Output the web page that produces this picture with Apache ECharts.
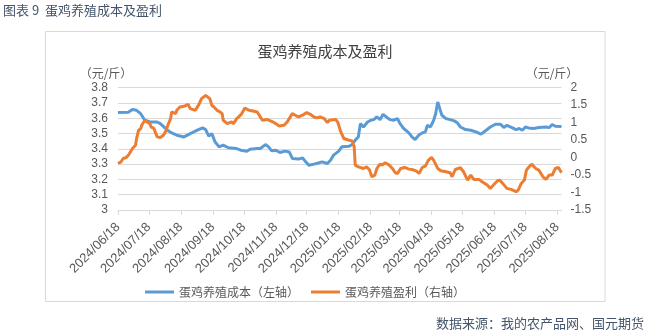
<!DOCTYPE html>
<html>
<head>
<meta charset="utf-8">
<script src="https://cdn.jsdelivr.net/npm/echarts@6/dist/echarts.min.js"></script>
<style>
  html, body { margin: 0; padding: 0; background: #ffffff; }
  #chart { width: 647px; height: 334px; }
</style>
</head>
<body>
<div id="chart"></div>
<script>
// Egg-laying hen farming: cost per jin (left axis) and profit per jin (right axis)

const startDate = '2024/06/18';
const endDate = '2025/08/22';

const costDates = [
  '2024/06/18','2024/06/28','2024/07/02','2024/07/06','2024/07/10','2024/07/14','2024/07/19','2024/07/26',
  '2024/07/29','2024/08/05','2024/08/09','2024/08/14','2024/08/21','2024/08/27','2024/09/03','2024/09/08',
  '2024/09/11','2024/09/14','2024/09/17','2024/09/20','2024/09/24','2024/09/28','2024/10/03','2024/10/11',
  '2024/10/15','2024/10/21','2024/10/24','2024/10/31','2024/11/03','2024/11/08','2024/11/11','2024/11/14',
  '2024/11/18','2024/11/22','2024/11/27','2024/12/01','2024/12/04','2024/12/10','2024/12/14','2024/12/17',
  '2024/12/20','2024/12/25','2024/12/30','2025/01/02','2025/01/07','2025/01/10','2025/01/13','2025/01/18',
  '2025/01/21','2025/01/28','2025/01/31','2025/02/03','2025/02/06','2025/02/08','2025/02/11','2025/02/15',
  '2025/02/18','2025/02/21','2025/02/24','2025/02/27','2025/03/02','2025/03/06','2025/03/09','2025/03/12',
  '2025/03/16','2025/03/18','2025/03/22','2025/03/27','2025/03/30','2025/04/02','2025/04/06','2025/04/09',
  '2025/04/12','2025/04/14','2025/04/17','2025/04/20','2025/04/22','2025/04/24','2025/04/26','2025/04/28',
  '2025/05/02','2025/05/06','2025/05/10','2025/05/13','2025/05/16','2025/05/21','2025/05/26','2025/05/31',
  '2025/06/05','2025/06/09','2025/06/14','2025/06/19','2025/06/24','2025/06/27','2025/06/30','2025/07/05',
  '2025/07/09','2025/07/12','2025/07/15','2025/07/18','2025/07/21','2025/07/26','2025/07/31','2025/08/07',
  '2025/08/10','2025/08/13','2025/08/16','2025/08/22'
];
const costValues = [
  3.637,3.639,3.657,3.652,3.630,3.587,3.576,3.576,
  3.565,3.522,3.504,3.489,3.478,3.500,3.522,3.537,
  3.526,3.483,3.500,3.446,3.413,3.424,3.407,3.402,
  3.391,3.385,3.398,3.402,3.402,3.428,3.413,3.387,
  3.391,3.376,3.385,3.380,3.337,3.333,3.341,3.315,
  3.293,3.300,3.309,3.315,3.304,3.326,3.359,3.385,
  3.413,3.417,3.428,3.457,3.478,3.565,3.543,3.576,
  3.587,3.591,3.609,3.591,3.626,3.604,3.591,3.587,
  3.598,3.570,3.533,3.505,3.478,3.461,3.492,3.504,
  3.511,3.554,3.543,3.587,3.630,3.707,3.663,3.620,
  3.598,3.591,3.583,3.570,3.543,3.526,3.522,3.511,
  3.496,3.517,3.543,3.561,3.561,3.539,3.554,3.539,
  3.526,3.533,3.522,3.543,3.537,3.533,3.539,3.543,
  3.539,3.559,3.548,3.546
];

const profitDates = [
  '2024/06/18','2024/06/21','2024/06/23','2024/06/26','2024/06/28','2024/07/02','2024/07/05','2024/07/06',
  '2024/07/08','2024/07/10','2024/07/11','2024/07/14','2024/07/16','2024/07/19','2024/07/20','2024/07/23',
  '2024/07/24','2024/07/26','2024/07/29','2024/08/01','2024/08/03','2024/08/06','2024/08/08','2024/08/09',
  '2024/08/13','2024/08/14','2024/08/17','2024/08/21','2024/08/25','2024/08/27','2024/09/01','2024/09/04',
  '2024/09/07','2024/09/11','2024/09/12','2024/09/15','2024/09/17','2024/09/19','2024/09/22','2024/09/24',
  '2024/09/27','2024/09/28','2024/10/02','2024/10/06','2024/10/08','2024/10/11','2024/10/13','2024/10/16',
  '2024/10/19','2024/10/23','2024/10/28','2024/10/31','2024/11/03','2024/11/05','2024/11/06','2024/11/10',
  '2024/11/14','2024/11/18','2024/11/21','2024/11/26','2024/11/29','2024/12/04','2024/12/05','2024/12/10',
  '2024/12/15','2024/12/18','2024/12/22','2024/12/25','2024/12/28','2024/12/31','2025/01/04','2025/01/07',
  '2025/01/09','2025/01/15','2025/01/17','2025/01/20','2025/01/23','2025/01/28','2025/01/31','2025/02/02',
  '2025/02/03','2025/02/06','2025/02/11','2025/02/14','2025/02/17','2025/02/19','2025/02/22','2025/02/24',
  '2025/02/27','2025/03/01','2025/03/04','2025/03/08','2025/03/11','2025/03/14','2025/03/16','2025/03/19',
  '2025/03/23','2025/03/27','2025/03/30','2025/04/03','2025/04/06','2025/04/09','2025/04/12','2025/04/15',
  '2025/04/18','2025/04/20','2025/04/24','2025/04/27','2025/05/02','2025/05/06','2025/05/08','2025/05/11',
  '2025/05/16','2025/05/19','2025/05/23','2025/05/26','2025/05/29','2025/06/03','2025/06/06','2025/06/11',
  '2025/06/14','2025/06/17','2025/06/21','2025/06/23','2025/06/26','2025/06/30','2025/07/04','2025/07/09',
  '2025/07/11','2025/07/14','2025/07/17','2025/07/19','2025/07/21','2025/07/24','2025/07/28','2025/07/31',
  '2025/08/04','2025/08/07','2025/08/10','2025/08/13','2025/08/16','2025/08/19','2025/08/22'
];
const profitValues = [
  -0.168,-0.121,-0.026,0.003,0.069,0.259,0.354,0.545,
  0.783,0.830,0.925,1.068,1.020,0.973,0.878,0.830,
  0.735,0.592,0.573,0.640,0.735,0.973,1.115,1.306,
  1.258,1.353,1.448,1.467,1.524,1.401,1.353,1.496,
  1.686,1.781,1.829,1.686,1.496,1.448,1.353,1.325,
  1.258,1.068,0.973,1.020,0.973,1.115,1.163,1.258,
  1.420,1.353,1.325,1.306,1.163,1.068,1.087,1.087,
  1.039,0.973,0.906,0.925,1.020,1.258,1.306,1.163,
  1.230,1.287,1.230,1.163,1.135,1.163,1.115,1.001,
  1.068,1.087,1.020,0.735,0.545,0.497,0.478,0.307,
  -0.216,-0.264,-0.311,-0.264,-0.359,-0.549,-0.501,-0.311,
  -0.188,-0.216,-0.149,-0.216,-0.311,-0.435,-0.454,-0.311,
  -0.283,-0.330,-0.340,-0.380,-0.450,-0.283,-0.245,-0.073,
  0.003,-0.073,-0.311,-0.378,-0.406,-0.435,-0.549,-0.340,
  -0.292,-0.406,-0.644,-0.501,-0.625,-0.625,-0.692,-0.787,
  -0.882,-0.787,-0.663,-0.644,-0.739,-0.882,-0.910,-0.977,
  -0.929,-0.739,-0.644,-0.359,-0.283,-0.188,-0.311,-0.359,
  -0.549,-0.625,-0.501,-0.501,-0.311,-0.283,-0.435
];

// Daily category list for the date axis
function buildDays(from, to) {
  const p = s => { const a = s.split('/').map(Number); return Date.UTC(a[0], a[1] - 1, a[2]); };
  const out = [];
  for (let t = p(from); t <= p(to); t += 86400000) {
    const d = new Date(t);
    const mm = String(d.getUTCMonth() + 1).padStart(2, '0');
    const dd = String(d.getUTCDate()).padStart(2, '0');
    out.push(d.getUTCFullYear() + '/' + mm + '/' + dd);
  }
  return out;
}
const days = buildDays(startDate, endDate);
const onTickDay = (idx, value) => value.slice(-3) === '/18';

const numFont = "'Liberation Sans', 'Noto Sans CJK SC', sans-serif";
const cjkFont = "'Noto Sans CJK SC', sans-serif";
const axisGrey = '#595959';
const lineGrey = '#d9d9d9';
const navy = '#44546A';

const chart = echarts.init(document.getElementById('chart'), null, { renderer: 'canvas' });

chart.setOption({
  animation: false,
  backgroundColor: '#ffffff',
  color: ['#5B9BD5', '#ED7D31'],
  graphic: [
    { type: 'rect', shape: { x: 45.5, y: 31.5, width: 559.5, height: 270 },
      style: { fill: 'none', stroke: lineGrey, lineWidth: 1 }, silent: true },
    { type: 'text', left: 3, top: 4,
      style: { text: '图表 9  蛋鸡养殖成本及盈利', font: '13px ' + cjkFont, fill: navy } },
    { type: 'text', x: 325, y: 51,
      style: { text: '蛋鸡养殖成本及盈利', font: '15px ' + cjkFont, fill: '#404040',
               textAlign: 'center', textVerticalAlign: 'middle' } },
    { type: 'text', x: 106, y: 73,
      style: { text: '（元/斤）', font: '12px ' + cjkFont, fill: axisGrey,
               textAlign: 'center', textVerticalAlign: 'middle' } },
    { type: 'text', x: 552, y: 73,
      style: { text: '（元/斤）', font: '12px ' + cjkFont, fill: axisGrey,
               textAlign: 'center', textVerticalAlign: 'middle' } },
    { type: 'text', x: 644, y: 323,
      style: { text: '数据来源：我的农产品网、国元期货', font: '13px ' + cjkFont, fill: navy,
               textAlign: 'right', textVerticalAlign: 'middle' } }
  ],
  legend: {
    left: 140,
    top: 281,
    itemWidth: 29,
    itemHeight: 3,
    itemGap: 12,
    icon: 'rect',
    selectedMode: false,
    textStyle: { fontFamily: cjkFont, fontSize: 12, color: axisGrey },
    data: ['蛋鸡养殖成本（左轴）', '蛋鸡养殖盈利（右轴）']
  },
  grid: { left: 118, right: 85.5, top: 87.7, bottom: 124 },
  xAxis: {
    type: 'category',
    data: days,
    boundaryGap: false,
    axisLine: { onZero: false, lineStyle: { color: lineGrey, width: 1 } },
    axisTick: { interval: onTickDay, length: 5, lineStyle: { color: lineGrey } },
    axisLabel: { interval: onTickDay, rotate: 45, margin: 15, color: axisGrey,
                 fontFamily: numFont, fontSize: 13 },
    splitLine: { show: false }
  },
  yAxis: [
    {
      type: 'value', min: 3, max: 3.8, interval: 0.1,
      axisLine: { show: false }, axisTick: { show: false },
      axisLabel: { margin: 10, color: axisGrey, fontFamily: numFont, fontSize: 12,
                   formatter: v => String(Math.round(v * 10) / 10) },
      splitLine: { lineStyle: { color: lineGrey, width: 1 } }
    },
    {
      type: 'value', min: -1.5, max: 2, interval: 0.5,
      axisLine: { show: false }, axisTick: { show: false },
      axisLabel: { margin: 9, color: axisGrey, fontFamily: numFont, fontSize: 12 },
      splitLine: { show: false }
    }
  ],
  series: [
    {
      name: '蛋鸡养殖成本（左轴）', type: 'line', yAxisIndex: 0,
      symbol: 'none', lineStyle: { width: 3 },
      data: costDates.map((d, i) => [d, costValues[i]])
    },
    {
      name: '蛋鸡养殖盈利（右轴）', type: 'line', yAxisIndex: 1,
      symbol: 'none', lineStyle: { width: 3 },
      data: profitDates.map((d, i) => [d, profitValues[i]])
    }
  ]
});
</script>
</body>
</html>
